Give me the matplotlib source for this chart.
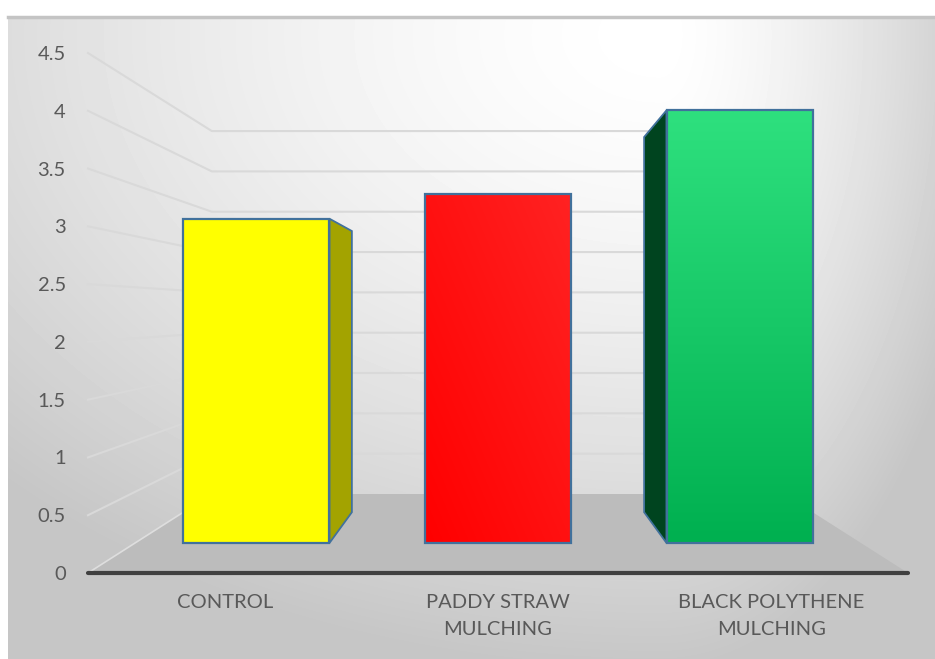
import numpy as np
import matplotlib
matplotlib.use("Agg")
import matplotlib.pyplot as plt
from matplotlib.patches import Polygon

# mulch treatments and measured values
categories = ['CONTROL', 'PADDY STRAW\nMULCHING', 'BLACK POLYTHENE\nMULCHING']
values = [3.17, 3.41, 4.23]
yticks = [0, 0.5, 1, 1.5, 2, 2.5, 3, 3.5, 4, 4.5]

front_colors = ['#FFFF00', '#FF0000', '#00B050']
top_colors = ['#FFFF00', '#FF2222', '#2EE07E']
side_colors = ['#A3A300', '#B00000', '#00441F']
edge = '#41719C'

plt.rcParams['font.family'] = ['Lato', 'DejaVu Sans']

W, H = 935, 659
fig = plt.figure(figsize=(W / 100, H / 100), dpi=100)

# chart area background: soft light spot near the top right
bg = fig.add_axes([0, 0, 1, 1])
bg.set_xlim(0, W)
bg.set_ylim(H, 0)
bg.axis('off')
xx, yy = np.meshgrid(np.arange(W) + 0.5, np.arange(H) + 0.5)
dx = xx - 660
rx = np.where(dx < 0, 885.0, 323.0)
r = np.sqrt((dx / rx) ** 2 + ((yy - 35) / 610.0) ** 2)
shade = (255 - np.minimum(57, 54 * r ** 1.5)) / 255.0
shade[(xx < 8) | (yy < 17)] = 1.0
bg.imshow(shade, extent=(0, W, H, 0), cmap='gray', vmin=0, vmax=1,
          aspect='auto', interpolation='bilinear')
bg.plot([8, W], [17, 17], color='#c4c4c4', lw=2.5)

# plot axes = front plane of the 3-D box
ax = fig.add_axes([88 / W, 1 - 573 / H, 820 / W, 520 / H])
ax.patch.set_visible(False)
for sp in ax.spines.values():
    sp.set_visible(False)

# simple perspective: depth d in [0, 1], points shrink toward the eye point
k = 0.4327
cx, vy = 1.0, 2.263


def proj(x, y, d):
    s = 1.0 / (1.0 + k * d)
    return cx + (x - cx) * s, vy + (y - vy) * s


x_lo, x_hi = -0.5, 2.5

# gridlines on side wall and back wall
for v in yticks[1:]:
    p0 = proj(x_lo, v, 0)
    p1 = proj(x_lo, v, 1)
    p2 = proj(x_hi, v, 1)
    ax.plot([p0[0], p1[0], p2[0]], [p0[1], p1[1], p2[1]],
            color='#d9d9d9', lw=1.5, clip_on=False, zorder=1)

# floor
floor = [proj(x_lo, 0, 0), proj(x_hi, 0, 0), proj(x_hi, 0, 1), proj(x_lo, 0, 1)]
ax.add_patch(Polygon(floor, closed=True, facecolor='#bcbcbc', edgecolor='none',
                     clip_on=False, zorder=2))
p0, p1 = proj(x_lo, 0, 0), proj(x_lo, 0, 1)
ax.plot([p0[0], p1[0]], [p0[1], p1[1]], color='#dedede', lw=1.2,
        clip_on=False, zorder=2.5)
ax.plot([x_lo, x_hi], [0, 0], color='#404040', lw=3, solid_capstyle='round',
        clip_on=False, zorder=3)

# bars
bw = 0.607
d0, d1 = 0.30, 0.70
for i, v in enumerate(values):
    l, rr = i - bw / 2, i + bw / 2
    # visible side face
    if rr < cx - 1e-6:
        xs = rr
    elif l > cx + 1e-6:
        xs = l
    else:
        xs = None
    if xs is not None:
        side = [proj(xs, 0, d0), proj(xs, 0, d1), proj(xs, v, d1), proj(xs, v, d0)]
        ax.add_patch(Polygon(side, closed=True, facecolor=side_colors[i],
                             edgecolor=edge, lw=1.3, clip_on=False, zorder=4))
    # top face only when it sits below eye level
    if v < vy:
        top = [proj(l, v, d0), proj(rr, v, d0), proj(rr, v, d1), proj(l, v, d1)]
        ax.add_patch(Polygon(top, closed=True, facecolor=top_colors[i],
                             edgecolor=edge, lw=1.3, clip_on=False, zorder=4))
    front = [proj(l, 0, d0), proj(rr, 0, d0), proj(rr, v, d0), proj(l, v, d0)]
    fpoly = Polygon(front, closed=True, facecolor='none', edgecolor=edge,
                    lw=1.6, clip_on=False, zorder=6)
    ax.add_patch(fpoly)
    # gradient fill of the front face
    c_lo = np.array(matplotlib.colors.to_rgb(front_colors[i]))
    c_hi = np.array(matplotlib.colors.to_rgb(top_colors[i]))
    gy, gx = np.meshgrid(np.linspace(0, 1, 64), np.linspace(0, 1, 64), indexing='ij')
    if i == 1:
        t = (gx + gy) / 2
    else:
        t = gy
    img = c_lo[None, None, :] * (1 - t[..., None]) + c_hi[None, None, :] * t[..., None]
    fx0, fy0 = front[0]
    fx1, fy1 = front[2]
    im = ax.imshow(img, extent=(fx0, fx1, fy0, fy1), origin='lower',
                   aspect='auto', zorder=5, interpolation='bilinear')
    im.set_clip_path(fpoly)

ax.set_xlim(x_lo, x_hi)
ax.set_ylim(0, 4.5)
ax.set_yticks(yticks)
ax.set_yticklabels([f'{v:g}' for v in yticks])
ax.set_xticks(range(len(categories)))
ax.set_xticklabels(categories)
ax.tick_params(axis='both', length=0, labelsize=14.5, labelcolor='#595959')
ax.tick_params(axis='y', pad=16)
ax.tick_params(axis='x', pad=15)
for t in ax.get_xticklabels():
    t.set_linespacing(1.7)

fig.savefig('out.png', dpi=100)
